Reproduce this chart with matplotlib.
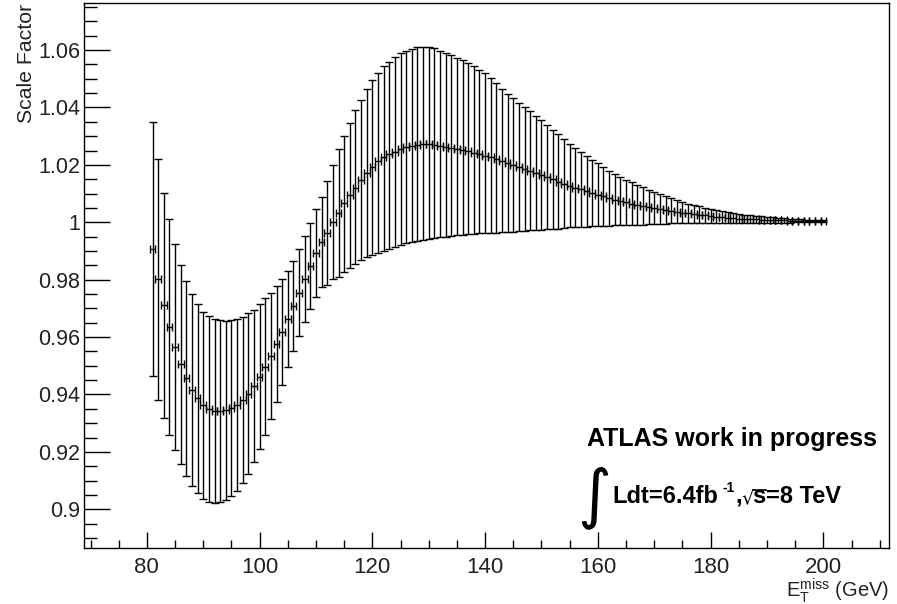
import numpy as np
import matplotlib
matplotlib.use("Agg")
import matplotlib.pyplot as plt
from matplotlib.ticker import MultipleLocator, FuncFormatter
from matplotlib.lines import Line2D

plt.rcParams['font.family'] = ['Liberation Sans', 'DejaVu Sans']
plt.rcParams['mathtext.fontset'] = 'custom'
plt.rcParams['mathtext.rm'] = 'Liberation Sans'
plt.rcParams['mathtext.bf'] = 'Liberation Sans:bold'
plt.rcParams['mathtext.it'] = 'Liberation Sans:italic'

# ---- data ----
met = list(range(81, 201))
scale_factor = [
    0.9906, 0.9802, 0.9710, 0.9635, 0.9565, 0.9505, 0.9456, 0.9416, 0.9386, 0.9362,
    0.9348, 0.9343, 0.9342, 0.9345, 0.9352, 0.9364, 0.9381, 0.9403, 0.9430, 0.9462,
    0.9497, 0.9535, 0.9575, 0.9618, 0.9662, 0.9708, 0.9755, 0.9802, 0.9848, 0.9892,
    0.9932, 0.9964, 1.0002, 1.0033, 1.0068, 1.0095, 1.0120, 1.0147, 1.0171, 1.0194,
    1.0213, 1.0228, 1.0238, 1.0246, 1.0254, 1.0261, 1.0266, 1.0269, 1.0271, 1.0271,
    1.0269, 1.0266, 1.0263, 1.0260, 1.0256, 1.0252, 1.0247, 1.0242, 1.0237, 1.0232,
    1.0226, 1.0220, 1.0214, 1.0207, 1.0200, 1.0193, 1.0186, 1.0179, 1.0171, 1.0164,
    1.0157, 1.0149, 1.0142, 1.0135, 1.0128, 1.0121, 1.0115, 1.0108, 1.0102, 1.0096,
    1.0090, 1.0084, 1.0079, 1.0074, 1.0069, 1.0065, 1.0061, 1.0057, 1.0053, 1.0050,
    1.0046, 1.0043, 1.0040, 1.0037, 1.0034, 1.0031, 1.0029, 1.0026, 1.0024, 1.0022,
    1.0020, 1.0018, 1.0016, 1.0014, 1.0013, 1.0012, 1.0011, 1.0010, 1.0009, 1.0008,
    1.0008, 1.0007, 1.0007, 1.0006, 1.0006, 1.0005, 1.0005, 1.0005, 1.0005, 1.0005,
]
sf_error_up = [
    0.0443, 0.0420, 0.0393, 0.0376, 0.0360, 0.0347, 0.0340, 0.0334, 0.0329, 0.0326,
    0.0324, 0.0320, 0.0316, 0.0311, 0.0306, 0.0299, 0.0290, 0.0280, 0.0266, 0.0253,
    0.0238, 0.0220, 0.0202, 0.0184, 0.0168, 0.0158, 0.0152, 0.0150, 0.0151, 0.0154,
    0.0157, 0.0181, 0.0198, 0.0223, 0.0233, 0.0252, 0.0271, 0.0279, 0.0292, 0.0302,
    0.0306, 0.0316, 0.0322, 0.0329, 0.0335, 0.0337, 0.0339, 0.0341, 0.0341, 0.0340,
    0.0337, 0.0332, 0.0328, 0.0323, 0.0318, 0.0314, 0.0308, 0.0302, 0.0293, 0.0287,
    0.0276, 0.0264, 0.0252, 0.0241, 0.0232, 0.0224, 0.0215, 0.0207, 0.0199, 0.0191,
    0.0182, 0.0173, 0.0164, 0.0155, 0.0146, 0.0138, 0.0130, 0.0123, 0.0116, 0.0109,
    0.0103, 0.0096, 0.0090, 0.0084, 0.0079, 0.0074, 0.0069, 0.0065, 0.0060, 0.0056,
    0.0052, 0.0048, 0.0044, 0.0040, 0.0037, 0.0034, 0.0031, 0.0029, 0.0027, 0.0025,
    0.0023, 0.0021, 0.0019, 0.0017, 0.0016, 0.0015, 0.0014, 0.0013, 0.0012, 0.0011,
    0.0010, 0.0009, 0.0008, 0.0007, 0.0006, 0.0005, 0.0004, 0.0004, 0.0003, 0.0003,
]
sf_error_down = [
    0.0443, 0.0420, 0.0393, 0.0376, 0.0360, 0.0347, 0.0340, 0.0334, 0.0329, 0.0326,
    0.0324, 0.0320, 0.0316, 0.0311, 0.0306, 0.0299, 0.0290, 0.0280, 0.0266, 0.0253,
    0.0238, 0.0220, 0.0202, 0.0184, 0.0168, 0.0158, 0.0152, 0.0150, 0.0151, 0.0154,
    0.0157, 0.0181, 0.0198, 0.0223, 0.0240, 0.0255, 0.0265, 0.0278, 0.0291, 0.0308,
    0.0319, 0.0327, 0.0332, 0.0333, 0.0333, 0.0334, 0.0334, 0.0333, 0.0333, 0.0330,
    0.0325, 0.0318, 0.0313, 0.0308, 0.0301, 0.0296, 0.0289, 0.0283, 0.0275, 0.0270,
    0.0262, 0.0256, 0.0248, 0.0240, 0.0233, 0.0224, 0.0215, 0.0207, 0.0199, 0.0191,
    0.0182, 0.0173, 0.0164, 0.0155, 0.0146, 0.0138, 0.0130, 0.0123, 0.0116, 0.0109,
    0.0103, 0.0096, 0.0090, 0.0084, 0.0079, 0.0074, 0.0069, 0.0065, 0.0060, 0.0056,
    0.0052, 0.0048, 0.0044, 0.0040, 0.0037, 0.0034, 0.0031, 0.0029, 0.0027, 0.0025,
    0.0023, 0.0021, 0.0019, 0.0017, 0.0016, 0.0015, 0.0014, 0.0013, 0.0012, 0.0011,
    0.0010, 0.0009, 0.0008, 0.0007, 0.0006, 0.0005, 0.0004, 0.0004, 0.0003, 0.0003,
]
bin_half_width = 0.5

x_label = r"$\mathrm{E}_{\mathrm{T}}^{\mathrm{miss}}$ (GeV)"
y_label = "Scale Factor"
atlas_label = "ATLAS work in progress"
lumi_main = "Ldt=6.4fb"
lumi_exp = "-1"
lumi_comma = ","
lumi_root = "\u221a"
lumi_s = "s"
lumi_rest = "=8 TeV"

# ---- figure ----
W, H = 897, 604
fig = plt.figure(figsize=(W / 100, H / 100), dpi=100)
ax = fig.add_axes([84.3 / W, 1 - 548.3 / H, (889.3 - 84.3) / W, (548.3 - 2.7) / H])

ax.errorbar(met, scale_factor, yerr=[sf_error_down, sf_error_up], xerr=bin_half_width,
            fmt='none', ecolor='black', elinewidth=1.0, capsize=3.0, capthick=1.0)

ax.set_xlim(68.9, 211.7)
ax.set_ylim(0.8864, 1.0765)

ax.xaxis.set_major_locator(MultipleLocator(20))
ax.xaxis.set_minor_locator(MultipleLocator(5))
ax.yaxis.set_major_locator(MultipleLocator(0.02))
ax.yaxis.set_minor_locator(MultipleLocator(0.005))
ax.yaxis.set_major_formatter(FuncFormatter(
    lambda v, p: "1" if abs(v - 1) < 1e-9 else f"{v:.2f}".rstrip('0').rstrip('.')))

ax.tick_params(axis='both', which='both', direction='in', top=False, right=False,
               width=1.0, color='black')
ax.tick_params(axis='y', which='major', length=19, labelsize=15.5, pad=3)
ax.tick_params(axis='y', which='minor', length=9.5)
ax.tick_params(axis='x', which='major', length=11.5, labelsize=16, pad=6)
ax.tick_params(axis='x', which='minor', length=6)
for s in ax.spines.values():
    s.set_linewidth(1.0)
for lbl in ax.get_xticklabels() + ax.get_yticklabels():
    lbl.set_color('#222222')

fig.text(26.5 / W, 1 - 4 / H, y_label, rotation=90, ha='center', va='top',
         fontsize=15.3, color='#222222')
fig.text(889 / W, 1 - 597 / H, x_label, ha='right', va='baseline', fontsize=14.5,
         color='#222222')

fig.text(587 / W, 1 - 446 / H, atlas_label, ha='left', va='baseline', fontsize=18,
         fontweight='bold')
fig.text(594 / W, 1 - 515 / H, "\u222b", ha='center', va='baseline', fontsize=47,
         family='DejaVu Sans')

# lumi line built from consecutive pieces
renderer = fig.canvas.get_renderer()
base_y = 1 - 503 / H
x_px = 612.0
def piece(s, dy_px=0.0, size=17, gap=0.0, weight='bold', family=None):
    global x_px
    kw = {} if family is None else {'family': family}
    t = fig.text((x_px + gap) / W, base_y + dy_px / H, s, ha='left', va='baseline',
                 fontsize=size, fontweight=weight, **kw)
    bb = t.get_window_extent(renderer)
    x_px = bb.x1
    return bb

piece(lumi_main)
piece(lumi_exp, dy_px=11, size=10, gap=5)
piece(lumi_comma, gap=0.5)
root_bb = piece(lumi_root, size=14, gap=-1, weight='normal', family='DejaVu Sans')
s_bb = piece(lumi_s, gap=-1.5)
piece(lumi_rest, gap=0.5)
bar_y = (root_bb.y1 - 1.5) / H
fig.add_artist(Line2D([(root_bb.x1 - 1) / W, (s_bb.x1 + 0.5) / W], [bar_y, bar_y],
                      transform=fig.transFigure, color='black', linewidth=1.2))

fig.savefig("out.png", dpi=100)
